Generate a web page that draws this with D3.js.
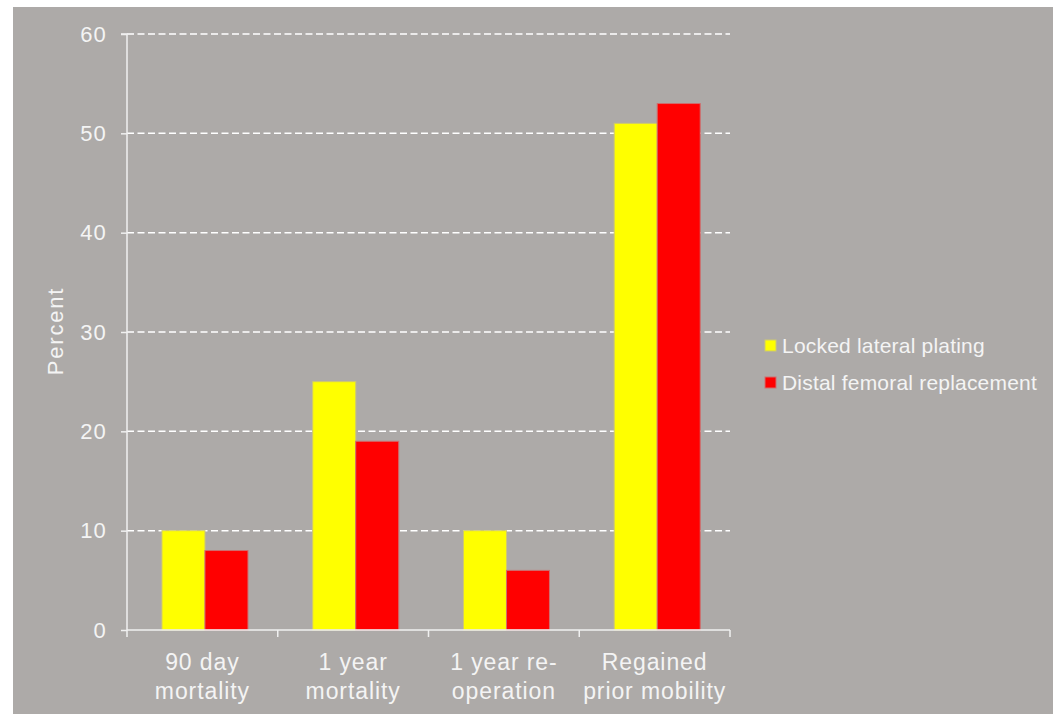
<!DOCTYPE html>
<html><head><meta charset="utf-8">
<script src="https://cdn.jsdelivr.net/npm/d3@7"></script>
<style>body{margin:0;background:#fff;} svg{display:block;}</style>
</head><body>
<svg id="c" width="1053" height="714"></svg>
<script>
const categories = [["90 day","mortality"],["1 year","mortality"],["1 year re-","operation"],["Regained","prior mobility"]];
const seriesNames = ["Locked lateral plating","Distal femoral replacement"];
const lockedPlating = [10, 25, 10, 51];
const femoralReplacement = [8, 19, 6, 53];
const yTicks = [0,10,20,30,40,50,60];
const colors = ["#ffff00","#ff0000"];
const strokes = ["#cfc96e","#cf6e6e"];

(function(){
const svg = d3.select("#c");
const font = "'Liberation Sans', Arial, sans-serif";
const txt = "#f4f4f4";
svg.append("rect").attr("x",13).attr("y",7).attr("width",1040).attr("height",707).attr("fill","#adaaa8");

const pl = 127, pr = 730, pt = 34, pb = 630;
const x = d3.scaleBand().domain(d3.range(categories.length)).range([pl,pr]).paddingInner(0).paddingOuter(0);
const y = d3.scaleLinear().domain([0,60]).range([pb,pt]);
const inner = d3.scaleBand().domain([0,1]).range([0,x.bandwidth()]).paddingInner(0).paddingOuter(0.753).align(0.54);

// gridlines
svg.append("g").selectAll("line").data(yTicks.filter(d=>d>0)).join("line")
  .attr("x1",pl).attr("x2",pr).attr("y1",d=>y(d)).attr("y2",d=>y(d))
  .attr("stroke","#ffffff").attr("stroke-width",1.5).attr("stroke-dasharray","7,3.5");

// bars
const data = [lockedPlating, femoralReplacement];
data.forEach((vals,s)=>{
  svg.append("g").selectAll("rect").data(vals).join("rect")
    .attr("x",(d,i)=>x(i)+inner(s)).attr("width",inner.bandwidth())
    .attr("y",d=>y(d)).attr("height",d=>y(0)-y(d))
    .attr("fill",colors[s]).attr("stroke",strokes[s]).attr("stroke-width",1);
});

// y axis
const ya = svg.append("g").attr("transform",`translate(${pl},0)`)
  .call(d3.axisLeft(y).tickValues(yTicks).tickSize(6).tickPadding(14));
ya.select(".domain").attr("stroke","#f0f0f0").attr("stroke-width",1.5).attr("d",`M-6,${pt}H0V${pb}`);
ya.selectAll(".tick line").attr("stroke","#f0f0f0").attr("stroke-width",1.5);
ya.selectAll(".tick text").attr("fill",txt).attr("font-family",font).attr("font-size",22).attr("letter-spacing",1.2);

// x axis
const xa = svg.append("g").attr("transform",`translate(0,${pb})`);
xa.append("line").attr("x1",pl).attr("x2",pr).attr("y1",0).attr("y2",0).attr("stroke","#f0f0f0").attr("stroke-width",1.5);
xa.selectAll("line.t").data(d3.range(categories.length+1)).join("line").attr("class","t")
  .attr("x1",i=>pl+i*x.bandwidth()).attr("x2",i=>pl+i*x.bandwidth())
  .attr("y1",0).attr("y2",7).attr("stroke","#f0f0f0").attr("stroke-width",1.5);
categories.forEach((lines,i)=>{
  const t = xa.append("text").attr("x",x(i)+x.bandwidth()/2).attr("y",40)
    .attr("text-anchor","middle").attr("fill",txt).attr("font-family",font).attr("font-size",23).attr("letter-spacing",0.9);
  lines.forEach((l,j)=>t.append("tspan").attr("x",x(i)+x.bandwidth()/2).attr("dy",j?29:0).text(l));
});

// y title
svg.append("text").attr("transform","translate(63,331) rotate(-90)").attr("text-anchor","middle")
  .attr("fill",txt).attr("font-family",font).attr("font-size",22).attr("letter-spacing",1.8).text("Percent");

// legend
const lg = svg.append("g").attr("transform","translate(765,345)");
seriesNames.forEach((n,i)=>{
  lg.append("rect").attr("x",0).attr("y",i*37-5).attr("width",11).attr("height",11).attr("fill",colors[i]).attr("stroke",strokes[i]);
  lg.append("text").attr("x",17).attr("y",i*37+8).attr("fill",txt).attr("font-family",font).attr("font-size",21).attr("letter-spacing",0.2).text(n);
});
})();
</script>
</body></html>
